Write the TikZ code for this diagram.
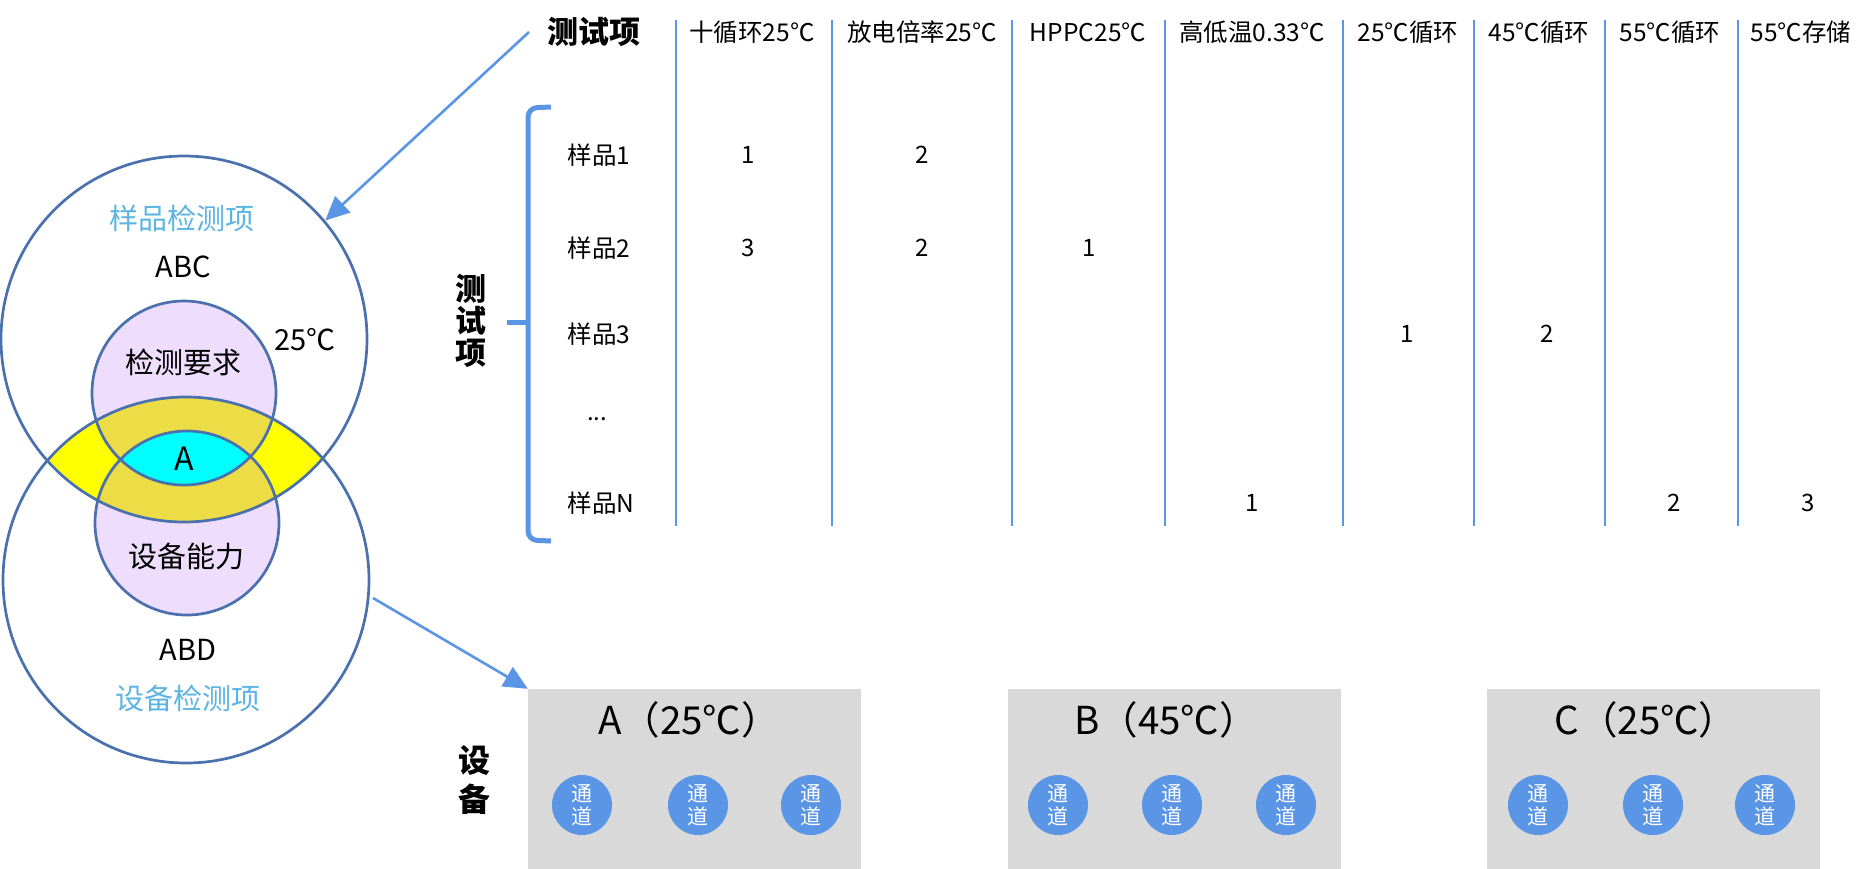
\documentclass[tikz,border=0pt]{standalone}
\usepackage{fontspec}
\setmainfont{Noto Sans CJK SC}
\usetikzlibrary{arrows.meta}
\definecolor{ring}{HTML}{4A70AE}
\definecolor{accent}{HTML}{5B95E5}
\definecolor{skyt}{HTML}{5BB4E2}
\definecolor{lav}{HTML}{EEDDFD}
\definecolor{olive}{HTML}{ECDC45}
\definecolor{lensyellow}{HTML}{FFFF00}
\definecolor{lenscyan}{HTML}{00FFFF}
\definecolor{boxgray}{HTML}{D9D9D9}
\newcommand\myfs[2]{\fontsize{#1pt}{#2pt}\selectfont}
\tikzset{
  bigring/.style={circle, draw=ring, line width=2.7pt, minimum size=366pt, inner sep=0pt},
  smallring/.style={circle, draw=ring, line width=2.7pt, minimum size=184pt, inner sep=0pt},
  arr/.style={accent, line width=2.6pt, -{Triangle[length=24pt,width=22pt]}},
  tline/.style={accent, line width=1.1pt},
  bracest/.style={accent, line width=5pt, rounded corners=9pt},
  vtxt/.style={font=\myfs{29}{34}, text=black},
  vlab/.style={font=\myfs{29}{34}, text=skyt},
  hdr/.style={font=\myfs{24.5}{28}, text=black},
  cell/.style={font=\myfs{24}{28}, text=black},
  rowlab/.style={font=\myfs{24.5}{28}, text=black, anchor=west},
  gbox/.style={fill=boxgray, minimum width=333pt, minimum height=182pt, inner sep=0pt},
  btitle/.style={font=\myfs{38.5}{42}, text=black},
  chan/.style={circle, fill=accent, minimum size=60pt, inner sep=0pt, text=white, align=center, font=\myfs{21}{23}},
  vhead/.style={font=\bfseries\myfs{31}{33}, align=center, text=black}
}
\begin{document}
\begin{tikzpicture}[x=1pt,y=-1pt]
\useasboundingbox (0,0) rectangle (1870,868);
% ---------- Venn ----------
\coordinate (T) at (184,339);
\coordinate (B) at (186,580);
\coordinate (t) at (184,393);
\coordinate (b) at (187,523);
\fill[lav] (t) circle[radius=92pt];
\fill[lav] (b) circle[radius=92pt];
\begin{scope}
  \clip (T) circle[radius=183pt];
  \fill[lensyellow] (B) circle[radius=183pt];
  \clip (B) circle[radius=183pt];
  \fill[olive] (t) circle[radius=92pt];
  \fill[olive] (b) circle[radius=92pt];
\end{scope}
\begin{scope}
  \clip (t) circle[radius=92pt];
  \fill[lenscyan] (b) circle[radius=92pt];
\end{scope}
\node[bigring] (smp) at (T) {};
\node[bigring] (dev) at (B) {};
\node[smallring] (req) at (t) {};
\node[smallring] (cap) at (b) {};
\node[vlab] (smplab) at (182,218) {样品检测项};
\node[vtxt] (abc) at (183,267) {ABC};
\node[vtxt] (deg) at (305,340) {25℃};
\node[vtxt] (reqlab) at (183,362) {检测要求};
\node[font=\myfs{32}{36}] (alab) at (184,459) {A};
\node[vtxt] (caplab) at (186,556) {设备能力};
\node[vtxt] (abd) at (188,650) {ABD};
\node[vlab] (devlab) at (188,698) {设备检测项};
% ---------- table ----------
\node[vhead] (thead) at (594,32) {测试项};
\coordinate (a1s) at (529,32);
\draw[arr] (a1s) -- (smp.40);
\node[hdr] (h1) at (752,32) {十循环25℃};
\node[hdr] (h2) at (922,32) {放电倍率25℃};
\node[hdr] (h3) at (1088,32) {HPPC25℃};
\node[hdr] (h4) at (1252,32) {高低温0.33℃};
\node[hdr] (h5) at (1408,32) {25℃循环};
\node[hdr] (h6) at (1539,32) {45℃循环};
\node[hdr] (h7) at (1670,32) {55℃循环};
\node[hdr] (h8) at (1801,32) {55℃存储};
\foreach \x in {676,832,1012,1165,1343,1474,1605,1738}
  \draw[tline] (\x,20) -- (\x,526);
\draw[bracest] (551,107) -- (528,108) -- (528,540) -- (551,541);
\draw[accent, line width=5pt] (507,322) -- (528,322);
\node[vhead] (vtest) at (471,321) {测\\[-1pt]试\\[-1pt]项};
\node[rowlab] (r1) at (564,155) {样品1};
\node[rowlab] (r2) at (564,248) {样品2};
\node[rowlab] (r3) at (564,334) {样品3};
\node[cell] (r4) at (597,419) {...};
\node[rowlab] (r5) at (564,503) {样品N};
\node[cell] (c11) at (748,155) {1};
\node[cell] (c12) at (922,155) {2};
\node[cell] (c21) at (748,248) {3};
\node[cell] (c22) at (922,248) {2};
\node[cell] (c23) at (1089,248) {1};
\node[cell] (c35) at (1407,334) {1};
\node[cell] (c36) at (1547,334) {2};
\node[cell] (c54) at (1252,503) {1};
\node[cell] (c57) at (1674,503) {2};
\node[cell] (c58) at (1808,503) {3};
% ---------- devices ----------
\node[gbox] (boxA) at (694.5,780) {};
\node[gbox] (boxB) at (1174,780) {};
\node[gbox] (boxC) at (1653,780) {};
\coordinate (a2s) at (373,598);
\draw[arr] (a2s) -- (boxA.north west);
\node[btitle] (tA) at (689,720) {A（25℃）};
\node[btitle] (tB) at (1166,720) {B（45℃）};
\node[btitle] (tC) at (1646,720) {C（25℃）};
\node[chan] (a1) at (582,805) {通\\道};
\node[chan] (a2) at (698,805) {通\\道};
\node[chan] (a3) at (811,805) {通\\道};
\node[chan] (b1) at (1058,805) {通\\道};
\node[chan] (b2) at (1172,805) {通\\道};
\node[chan] (b3) at (1286,805) {通\\道};
\node[chan] (cc1) at (1538,805) {通\\道};
\node[chan] (cc2) at (1653,805) {通\\道};
\node[chan] (cc3) at (1765,805) {通\\道};
\node[vhead, font=\bfseries\myfs{32}{39}] (vdev) at (474,780) {设\\备};
\end{tikzpicture}
\end{document}
